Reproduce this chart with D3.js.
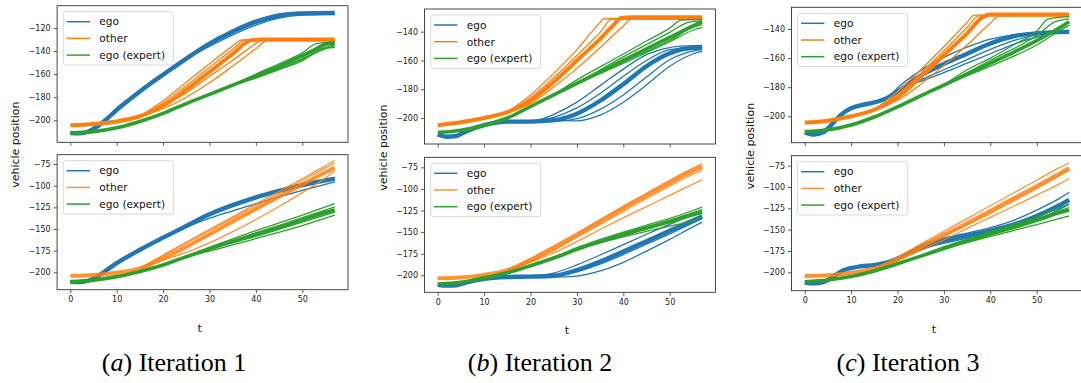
<!DOCTYPE html>
<html>
<head>
<meta charset="utf-8">
<script src="https://cdn.jsdelivr.net/npm/d3@7"></script>
<style>
  body { margin: 0; background: #fff; }
  svg { display: block; font-family: "DejaVu Sans", sans-serif; }
</style>
</head>
<body>
<svg id="chart" width="1081" height="383"></svg>
<script>
// ---- labels / ticks ----
const seriesNames = ["ego", "other", "ego (expert)"];
const xTicks = [0, 10, 20, 30, 40, 50];
const yTicksTop = [
  [-200, -180, -160, -140, -120],
  [-200, -180, -160, -140],
  [-200, -180, -160, -140]
];
const yTicksBottom = [-200, -175, -150, -125, -100, -75];
const xLimits = [-2.85, 59.85];
const yLimitsTop = [[-219.07, -100.67], [-218.08, -124.22], [-218.14, -125.09]];
const yLimitsBottom = [[-220.08, -64.27], [-219.68, -63.43], [-221.57, -63.27]];
const captionLetters = ["a", "b", "c"];
const captionTexts = ["Iteration 1", "Iteration 2", "Iteration 3"];

// ---- iteration 1, top ----  [t, position]
const ego1Top = [[0,-211],[2,-211.3],[4,-209.5],[6,-204.8],[8,-198.3],[10,-191],[12.5,-182.8],[15,-175],[17.5,-167.5],[20,-160.5],[25,-146.5],[30,-133.5],[35,-123],[40,-114.5],[45,-109],[50,-107.3],[57,-107]];
const ego1TopThin = [
  [[25,-146.5],[30,-136],[35,-126],[40,-117.5],[45,-111.5],[50,-108.8],[57,-108]],
  [[30,-133.5],[35,-124.5],[40,-116],[45,-110.5],[50,-108],[57,-107.6]]
];
const other1Top = [[0,-204.3],[5,-203.2],[10,-201],[15,-196.5],[20,-187.5],[25,-173.5],[30,-158],[35,-142.5],[39,-130.5],[41,-130],[57,-130]];
const other1TopThin = [
  [[15,-196.5],[20,-183],[25,-167],[30,-151],[35,-135.5],[36.8,-130.5],[57,-130.5]],
  [[15,-196.5],[20,-185],[25,-170],[30,-154],[35,-138.5],[37.8,-130.2],[57,-130.2]],
  [[20,-187.5],[25,-176],[30,-162],[35,-148],[40,-133.5],[41,-131],[57,-131]],
  [[15,-196.5],[20,-190],[25,-180],[30,-167.5],[35,-153],[40,-138],[42.5,-131],[57,-131]]
];
const expert1Top = [[0,-211],[5,-209.8],[10,-206.5],[15,-201],[20,-194],[25,-185.5],[30,-177.5],[35,-169.5],[40,-161.5],[45,-153],[50,-144],[53,-138],[55,-134],[57,-133]];
const expert1TopThin = [
  [[35,-169.5],[40,-160],[45,-151],[50,-141.5],[53,-133.5],[57,-132]],
  [[35,-169.5],[40,-162.5],[45,-154.5],[50,-146.5],[55,-137],[57,-134.5]],
  [[35,-169.5],[40,-163],[45,-155.5],[50,-147.5],[55,-138],[57,-135.5]],
  [[35,-169.5],[40,-163.5],[45,-156],[50,-148.5],[54.5,-137.5],[57,-137]]
];

// ---- iteration 1, bottom ----
const ego1Bot = [[0,-211],[2,-211.3],[4,-209.5],[6,-204.3],[8,-196.8],[10,-189.5],[15,-174],[20,-160],[25,-146.5],[30,-133],[35,-122.5],[40,-113.5],[45,-106],[50,-99.5],[55,-94],[57,-92]];
const ego1BotThin = [
  [[20,-160],[25,-148],[30,-137.5],[35,-129],[40,-121],[45,-113],[50,-105.5],[57,-95.5]],
  [[40,-113.5],[45,-105],[50,-98],[57,-90.5]]
];
const other1Bot = [[0,-204],[5,-203],[10,-200.5],[15,-195.5],[20,-184],[25,-170.5],[30,-156],[35,-141.5],[40,-127],[45,-112.5],[50,-98.5],[55,-84.5],[57,-79.5]];
const other1BotThin = [
  [[15,-195.5],[20,-181],[25,-166.5],[30,-152],[35,-137.5],[40,-123],[45,-108.5],[50,-94],[55,-79.5],[57,-74]],
  [[15,-195.5],[20,-180],[25,-165],[30,-150.5],[35,-136],[40,-121],[45,-106.5],[50,-92],[55,-77],[57,-71]],
  [[15,-195.5],[20,-186],[25,-177],[30,-166],[35,-153],[40,-139],[45,-124],[50,-108],[55,-91],[57,-83]]
];
const expert1Bot = [[0,-211],[5,-209],[10,-205],[15,-199],[20,-191.5],[25,-182],[30,-173],[35,-164.5],[40,-156],[45,-148],[50,-139.5],[55,-131],[57,-128]];
const expert1BotThin = [
  [[25,-182],[30,-171],[35,-161.5],[40,-152],[45,-143],[50,-134],[55,-124.5],[57,-120.5]],
  [[30,-173],[40,-154.5],[50,-137],[57,-124.5]],
  [[30,-173],[40,-158.5],[50,-142],[57,-130.5]],
  [[25,-182],[30,-175.5],[40,-161],[50,-146],[57,-134]]
];

// ---- iteration 2, top ----
const ego2Top = [[0,-211.5],[2,-213],[4,-212.5],[6,-209.5],[10,-205],[15,-202.5],[20,-202.5],[25,-201.5],[30,-197],[35,-188],[40,-176.5],[45,-164],[50,-155],[53,-152],[57,-151]];
const ego2TopThin = [
  [[18,-202.5],[22,-201],[25,-197.5],[30,-189],[35,-177.5],[40,-166],[45,-156],[50,-151],[54,-149.8],[57,-149.5]],
  [[20,-202.5],[25,-199.5],[30,-193],[35,-183],[40,-171],[45,-160],[50,-152.5],[57,-150.5]],
  [[22,-202.2],[25,-202.5],[30,-200.5],[35,-194],[40,-184],[45,-171.5],[50,-159.5],[55,-153.5],[57,-152.5]],
  [[25,-201.5],[30,-202],[35,-198],[40,-189],[45,-177],[50,-164],[55,-155.5],[57,-153.5]]
];
const other2Top = [[0,-205],[5,-203],[10,-200],[15,-196],[20,-188],[25,-175],[30,-160],[35,-145],[38,-135],[39.5,-130.5],[42,-130],[57,-130]];
const other2TopThin = [
  [[15,-196],[20,-184],[25,-169],[30,-152.5],[35,-133.5],[35.8,-131],[57,-131]],
  [[15,-196],[20,-186],[25,-172],[30,-156.5],[35,-140.5],[37.5,-131.5],[57,-131.5]],
  [[15,-196],[20,-190],[25,-178.5],[30,-165.5],[35,-151],[40,-136],[42,-130.5],[57,-130.5]]
];
const expert2Top = [[0,-210],[5,-208.5],[10,-205],[15,-200],[20,-192],[25,-184],[30,-176],[35,-168],[40,-160],[45,-152],[50,-144],[55,-136],[57,-133]];
const expert2TopThin = [
  [[25,-184],[30,-173.5],[35,-164.5],[40,-155.5],[45,-146.5],[50,-137.5],[52.5,-132],[57,-131.5]],
  [[30,-176],[40,-157.5],[50,-140.5],[54,-133.5],[57,-132.5]],
  [[30,-176],[40,-162],[50,-147],[55,-139],[57,-137]],
  [[30,-176],[40,-161],[50,-146],[55,-137],[57,-135]]
];

// ---- iteration 2, bottom ----
const ego2Bot = [[0,-211],[2,-212],[4,-211.5],[6,-208.5],[10,-204],[15,-202],[20,-201.5],[25,-200.5],[30,-194],[35,-184],[40,-172.5],[45,-160.5],[50,-148.5],[55,-136.5],[57,-132]];
const ego2BotThin = [
  [[20,-201.5],[25,-197.5],[30,-188],[35,-176.5],[40,-164.5],[45,-152.5],[50,-141],[55,-129.5],[57,-125]],
  [[25,-200.5],[30,-196],[35,-187],[40,-176],[45,-164],[50,-152],[55,-139.5],[57,-134.5]],
  [[22,-201.5],[25,-202],[30,-201],[35,-195],[40,-185],[45,-172],[50,-158.5],[55,-144],[57,-138.5]]
];
const other2Bot = [[0,-203.5],[5,-202.5],[10,-199.5],[15,-194],[20,-182.5],[25,-169],[30,-153.5],[35,-138],[40,-122.5],[45,-107.5],[50,-93],[55,-79],[57,-74.5]];
const other2BotThin = [
  [[15,-194],[20,-180.5],[25,-166],[30,-151],[35,-135.5],[40,-120],[45,-105],[50,-90],[55,-76],[57,-71]],
  [[15,-194],[20,-184],[25,-171],[30,-156],[35,-141],[40,-126],[45,-111],[50,-96.5],[55,-83],[57,-78.5]],
  [[15,-194],[20,-185],[25,-174],[30,-161],[35,-147],[40,-133.5],[45,-120.5],[50,-107.5],[55,-94.5],[57,-89.5]]
];
const expert2Bot = [[0,-210],[5,-208],[10,-203],[15,-197],[20,-189],[25,-180],[30,-170],[35,-161],[40,-153],[45,-145.5],[50,-138],[55,-130],[57,-127]];
const expert2BotThin = [
  [[25,-180],[30,-168],[35,-158.5],[40,-150],[45,-142],[50,-134],[55,-125],[57,-121]],
  [[30,-170],[40,-151.5],[50,-136],[57,-124]],
  [[30,-170],[40,-155.5],[50,-143],[55,-137],[57,-134]]
];

// ---- iteration 3, top ----
const ego3Top = [[0,-211],[2,-212.5],[4,-211],[6,-205],[8,-198.5],[10,-194.5],[12,-192.5],[15,-190.5],[18,-187],[20,-183],[25,-172],[30,-164],[35,-157],[40,-150],[45,-145],[50,-143],[57,-142]];
const ego3TopThin = [
  [[18,-187],[20,-180.5],[25,-168.5],[30,-159.5],[35,-152.5],[40,-147],[45,-144],[50,-143],[57,-142.5]],
  [[20,-183],[25,-175],[30,-168],[35,-161],[40,-154],[45,-148],[50,-144],[55,-142],[57,-141]],
  [[22,-179],[25,-176],[30,-170],[35,-163.5],[40,-157],[45,-150.5],[50,-145.5],[55,-142],[57,-141]]
];
const other3Top = [[0,-204.3],[5,-203],[10,-200],[15,-195.5],[20,-187],[25,-173],[30,-158],[35,-143],[38.5,-131.5],[40,-130],[57,-130]];
const other3TopThin = [
  [[15,-195.5],[20,-183],[25,-168],[30,-152],[35,-135.5],[36.5,-130.5],[57,-130.5]],
  [[15,-195.5],[20,-185],[25,-170.5],[30,-155],[35,-139],[37.5,-131],[57,-131]],
  [[15,-195.5],[20,-189],[25,-178],[30,-165],[35,-151],[40,-136],[42,-131],[57,-131]]
];
const expert3Top = [[0,-210.5],[5,-209.3],[10,-206],[15,-200.5],[20,-193.5],[25,-186],[30,-178.5],[35,-171],[40,-163.5],[45,-156],[50,-148],[55,-139],[57,-135]];
const expert3TopThin = [
  [[30,-178.5],[35,-168],[40,-160],[45,-151],[50,-141.5],[52.5,-133],[57,-131.5]],
  [[30,-178.5],[40,-161.5],[50,-144.5],[54,-135],[57,-133]],
  [[30,-178.5],[40,-165.5],[50,-151],[55,-141],[57,-137.5]]
];

// ---- iteration 3, bottom ----
const ego3Bot = [[0,-212],[2,-213],[4,-211.5],[6,-205.5],[8,-198.5],[10,-195],[12,-193],[15,-191.5],[18,-188],[20,-184],[25,-172],[30,-163],[35,-157],[40,-151],[45,-144],[50,-134],[55,-121],[57,-115]];
const ego3BotThin = [
  [[20,-184],[25,-168.5],[30,-160],[35,-154],[40,-147.5],[45,-139],[50,-127],[55,-113],[57,-106]],
  [[25,-172],[30,-166],[35,-160],[40,-154.5],[45,-148],[50,-139],[55,-126],[57,-120]]
];
const other3Bot = [[0,-204.3],[5,-203.5],[10,-200.5],[15,-195.5],[20,-185],[25,-170],[30,-156],[35,-142.5],[40,-128],[45,-113.5],[50,-99],[55,-84],[57,-78]];
const other3BotThin = [
  [[15,-195.5],[20,-182],[25,-167],[30,-152],[35,-137],[40,-122],[45,-107],[50,-92],[55,-77],[57,-71.5]],
  [[15,-195.5],[20,-186],[25,-172],[30,-158],[35,-144.5],[40,-131],[45,-116.5],[50,-102],[55,-86.5],[57,-80.5]],
  [[15,-195.5],[20,-186],[25,-174],[30,-162],[35,-148.5],[40,-135.5],[45,-122.5],[50,-109.5],[55,-96],[57,-90]]
];
const expert3Bot = [[0,-211],[5,-209],[10,-205],[15,-198.5],[20,-190],[25,-181],[30,-172],[35,-163.5],[40,-155],[45,-147.5],[50,-139],[55,-130],[57,-127]];
const expert3BotThin = [
  [[25,-181],[30,-170],[35,-161],[40,-152],[45,-143.5],[50,-135],[55,-124.5],[57,-120]],
  [[30,-172],[40,-154],[50,-137],[57,-124]],
  [[30,-172],[40,-158],[50,-144],[57,-134]]
];

// ---- layout ----
const colors = ["#1f77b4", "#ff7f0e", "#2ca02c"];
const bundleWidth = [4.4, 4, 3.6];
const colLeft = [57.1, 424.5, 791.5];
const plotW = 290.9;
const rowTop = [[5.7, 154.7], [9, 157.3], [7.3, 155.7]];
const rowH = [[136.6, 135], [135, 135], [135.4, 135]];
const captionX = [174, 540, 908];

const panels = [
  { col: 0, row: 0, lines: [[ego1Top, ego1TopThin], [other1Top, other1TopThin], [expert1Top, expert1TopThin]] },
  { col: 0, row: 1, lines: [[ego1Bot, ego1BotThin], [other1Bot, other1BotThin], [expert1Bot, expert1BotThin]] },
  { col: 1, row: 0, lines: [[ego2Top, ego2TopThin], [other2Top, other2TopThin], [expert2Top, expert2TopThin]] },
  { col: 1, row: 1, lines: [[ego2Bot, ego2BotThin], [other2Bot, other2BotThin], [expert2Bot, expert2BotThin]] },
  { col: 2, row: 0, lines: [[ego3Top, ego3TopThin], [other3Top, other3TopThin], [expert3Top, expert3TopThin]] },
  { col: 2, row: 1, lines: [[ego3Bot, ego3BotThin], [other3Bot, other3BotThin], [expert3Bot, expert3BotThin]] }
];

const svg = d3.select("#chart");

panels.forEach((p, idx) => {
  const left = colLeft[p.col];
  const top = rowTop[p.col][p.row];
  const h = rowH[p.col][p.row];
  const bottom = top + h;
  const yLim = p.row === 0 ? yLimitsTop[p.col] : yLimitsBottom[p.col];
  const yTicks = p.row === 0 ? yTicksTop[p.col] : yTicksBottom;

  const x = d3.scaleLinear().domain(xLimits).range([left, left + plotW]);
  const y = d3.scaleLinear().domain(yLim).range([bottom, top]);

  const clipId = "clip" + idx;
  svg.append("clipPath").attr("id", clipId)
    .append("rect").attr("x", left).attr("y", top).attr("width", plotW).attr("height", h);

  const g = svg.append("g").attr("clip-path", `url(#${clipId})`);
  const line = d3.line().x(d => x(d[0])).y(d => y(d[1])).curve(d3.curveMonotoneX);

  p.lines.forEach(([bundle, thin], i) => {
    const op = (i === 1 && p.row === 1) ? 0.85 : 1;
    g.append("path").datum(bundle)
      .attr("d", line).attr("fill", "none")
      .attr("stroke", colors[i]).attr("stroke-width", bundleWidth[i])
      .attr("stroke-opacity", op)
      .attr("stroke-linejoin", "round").attr("stroke-linecap", "butt");
    g.selectAll(null).data(thin).enter().append("path")
      .attr("d", line).attr("fill", "none")
      .attr("stroke", colors[i]).attr("stroke-width", 1.3)
      .attr("stroke-opacity", op);
  });

  // axes
  const yAxis = d3.axisLeft(y).tickValues(yTicks).tickSize(3.5).tickPadding(3);
  const ya = svg.append("g").attr("transform", `translate(${left},0)`).call(yAxis);
  const xAxis = d3.axisBottom(x).tickValues(xTicks).tickSize(3.5).tickPadding(3.5);
  if (p.row === 0) xAxis.tickFormat("");
  const xa = svg.append("g").attr("transform", `translate(0,${bottom})`).call(xAxis);
  [ya, xa].forEach(a => {
    a.select(".domain").remove();
    a.selectAll("line").attr("stroke", "#333").attr("stroke-width", 0.8);
    a.selectAll("text").attr("fill", "#222").style("font-size", "8px")
      .style("font-family", '"DejaVu Sans", sans-serif');
  });

  // frame
  svg.append("rect").attr("x", left).attr("y", top).attr("width", plotW).attr("height", h)
    .attr("fill", "none").attr("stroke", "#333").attr("stroke-width", 0.9);

  // legend
  const lx = left + 6.2, ly = top + 6;
  const lg = svg.append("g").attr("transform", `translate(${lx},${ly})`);
  lg.append("rect").attr("width", 110).attr("height", 53.3).attr("rx", 2.5)
    .attr("fill", "#fff").attr("fill-opacity", 0.8)
    .attr("stroke", "#d4d4d4").attr("stroke-width", 0.9);
  seriesNames.forEach((name, i) => {
    const yy = 10 + i * 16.7;
    lg.append("line").attr("x1", 3.4).attr("x2", 26.7).attr("y1", yy).attr("y2", yy)
      .attr("stroke", colors[i]).attr("stroke-width", 1.5)
      .attr("stroke-opacity", (i === 1 && p.row === 1) ? 0.85 : 1);
    lg.append("text").attr("x", 36).attr("y", yy + 3.8)
      .style("font-size", "10.6px").attr("fill", "#111").text(name);
  });

  if (p.row === 1) {
    svg.append("text")
      .attr("x", left + plotW / 2 - 3).attr("y", bottom + 42)
      .attr("text-anchor", "middle").style("font-size", "11px").attr("fill", "#111")
      .text("t");
    const topRow = rowTop[p.col][0];
    const cy = (topRow + bottom) / 2 - 3;
    svg.append("text")
      .attr("transform", `translate(${left - 38},${cy}) rotate(-90)`)
      .attr("text-anchor", "middle").style("font-size", "11px").attr("fill", "#111")
      .text("vehicle position");

    const cap = svg.append("text")
      .attr("x", captionX[p.col]).attr("y", 371)
      .attr("text-anchor", "middle")
      .style("font-family", '"Liberation Serif", "Times New Roman", serif')
      .style("font-size", "26px").attr("fill", "#000");
    cap.append("tspan").text("(");
    cap.append("tspan").style("font-style", "italic").text(captionLetters[p.col]);
    cap.append("tspan").text(") " + captionTexts[p.col]);
  }
});
</script>
</body>
</html>
